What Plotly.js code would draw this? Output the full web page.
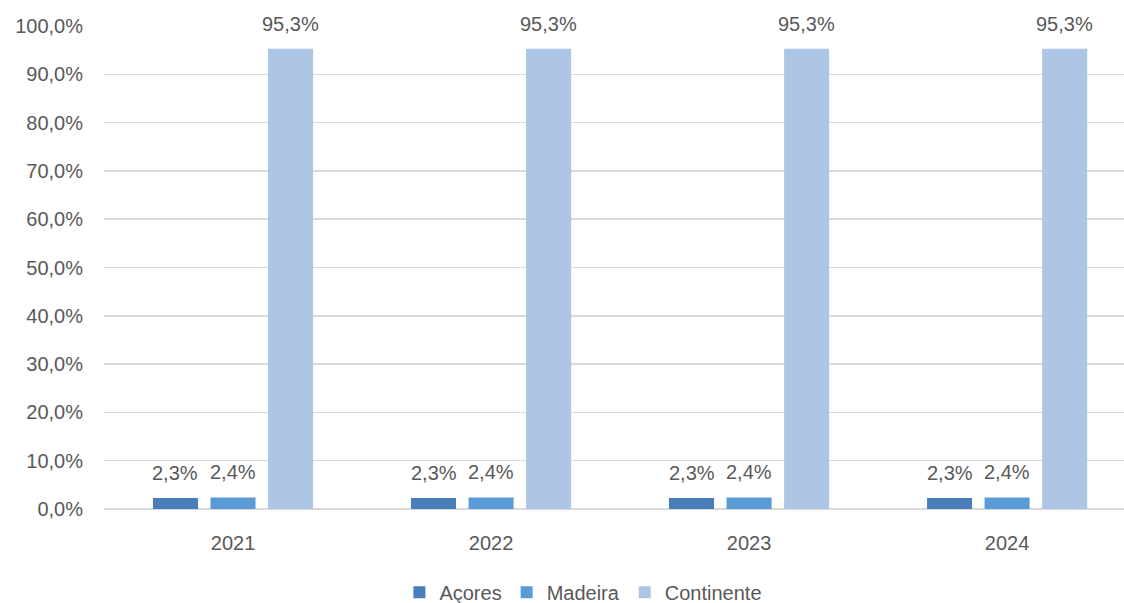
<!DOCTYPE html>
<html><head><meta charset="utf-8">
<script src="https://cdn.plot.ly/plotly-3.0.1.min.js"></script>
<style>html,body{margin:0;padding:0;background:#fff}</style>
</head><body><div id="chart" style="width:1124px;height:603px"></div>
<script>
const years = ["2021", "2022", "2023", "2024"];
const acores = [2.3, 2.3, 2.3, 2.3];
const madeira = [2.4, 2.4, 2.4, 2.4];
const continente = [95.3, 95.3, 95.3, 95.3];
const seriesNames = ["Açores", "Madeira", "Continente"];
const colors = ["#4A7EBB", "#5B9BD5", "#ADC6E5"];
const txtFont = {family: "Liberation Sans, Arial, sans-serif", size: 20, color: "#595959"};
const bargap = 0.331, bargroupgap = 0.217;

const allSeries = [acores, madeira, continente];
const data = allSeries.map((vals, i) => ({
  type: "bar", x: years, y: vals, name: seriesNames[i],
  marker: {color: colors[i]}, hoverinfo: "skip"
}));

// data labels as annotations (placed at each bar's centre via the category axis)
const slot = (1 - bargap) / allSeries.length;
const annotations = [];
allSeries.forEach((vals, i) => {
  const off = (i - (allSeries.length - 1) / 2) * slot;
  vals.forEach((v, j) => {
    annotations.push({
      xref: "x", yref: "y", x: j + off, y: v, yanchor: "middle", yshift: 25,
      text: v.toFixed(1).replace(".", ",") + "%", showarrow: false, font: txtFont
    });
  });
});

const layout = {
  width: 1124, height: 603,
  margin: {l: 104, r: 0, t: 26, b: 94},
  paper_bgcolor: "#fff", plot_bgcolor: "#fff",
  separators: ", ",
  barmode: "group", bargap: bargap, bargroupgap: bargroupgap,
  font: txtFont,
  xaxis: {type: "category", range: [-0.5, 3.453], showgrid: false, zeroline: false,
    showline: false, ticks: "", tickfont: txtFont, automargin: false, ticklabelstandoff: 20},
  yaxis: {range: [0, 100], dtick: 10, tick0: 0, tickformat: ".1f", ticksuffix: "%",
    showgrid: true, gridcolor: "#D9D9D9", gridwidth: 1.5, zeroline: true,
    zerolinecolor: "#D9D9D9", zerolinewidth: 1.5, showline: false, ticks: "",
    tickfont: txtFont, automargin: false, ticklabelstandoff: 20},
  legend: {orientation: "h", x: 0.47, xanchor: "center", xref: "paper",
    yref: "container", y: 0.018, yanchor: "middle",
    font: txtFont, itemwidth: 30, traceorder: "normal"},
  annotations: annotations,
  showlegend: true
};
Plotly.newPlot("chart", data, layout, {staticPlot: true});
</script></body></html>
